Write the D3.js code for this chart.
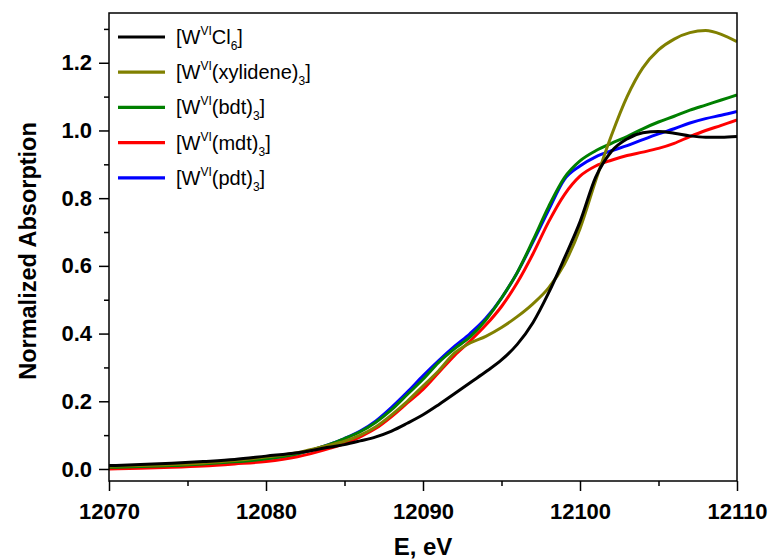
<!DOCTYPE html>
<html>
<head>
<meta charset="utf-8">
<script src="https://cdn.jsdelivr.net/npm/d3@7/dist/d3.min.js"></script>
<style>
  html, body { margin: 0; padding: 0; background: #fff; }
  svg text { font-family: "Liberation Sans", Arial, sans-serif; }
</style>
</head>
<body>
<svg id="chart" width="771" height="560"></svg>
<script>
// W L-edge XAS, normalized absorption vs photon energy (eV)
const energy = [12070, 12072, 12074, 12076, 12078, 12080, 12082, 12084, 12085, 12086,
                12087, 12088, 12089, 12090, 12091, 12092, 12093, 12094, 12095, 12096,
                12097, 12098, 12099, 12100, 12101, 12102, 12103, 12104, 12105, 12106,
                12107, 12108, 12109, 12110];

const wcl6 =      [0.010, 0.013, 0.017, 0.022, 0.028, 0.038, 0.048, 0.064, 0.072, 0.083,
                   0.095, 0.112, 0.135, 0.160, 0.190, 0.222, 0.255, 0.287, 0.322, 0.368,
                   0.432, 0.520, 0.622, 0.730, 0.862, 0.938, 0.975, 0.993, 0.997, 0.992,
                   0.984, 0.980, 0.980, 0.982];
const xylidene =  [0.008, 0.010, 0.013, 0.018, 0.025, 0.035, 0.048, 0.070, 0.082, 0.100,
                   0.125, 0.160, 0.200, 0.245, 0.290, 0.342, 0.372, 0.392, 0.418, 0.450,
                   0.488, 0.535, 0.605, 0.710, 0.852, 0.985, 1.100, 1.185, 1.238, 1.270,
                   1.289, 1.295, 1.284, 1.262];
const bdt =       [0.005, 0.007, 0.010, 0.015, 0.021, 0.030, 0.045, 0.072, 0.090, 0.110,
                   0.138, 0.175, 0.220, 0.265, 0.315, 0.355, 0.390, 0.440, 0.505, 0.580,
                   0.675, 0.775, 0.860, 0.910, 0.940, 0.962, 0.982, 1.005, 1.025, 1.042,
                   1.060, 1.075, 1.090, 1.105];
const mdt =       [0.000, 0.002, 0.005, 0.009, 0.015, 0.022, 0.036, 0.060, 0.075, 0.095,
                   0.120, 0.155, 0.195, 0.235, 0.285, 0.335, 0.378, 0.425, 0.480, 0.550,
                   0.635, 0.730, 0.810, 0.865, 0.895, 0.912, 0.926, 0.936, 0.947, 0.962,
                   0.982, 1.000, 1.015, 1.031];
const pdt =       [0.005, 0.007, 0.010, 0.015, 0.021, 0.030, 0.045, 0.072, 0.090, 0.112,
                   0.142, 0.182, 0.227, 0.275, 0.320, 0.362, 0.400, 0.445, 0.505, 0.580,
                   0.670, 0.765, 0.855, 0.895, 0.922, 0.940, 0.955, 0.973, 0.990, 1.005,
                   1.022, 1.035, 1.045, 1.056];

const xTicks = [12070, 12080, 12090, 12100, 12110];
const yTicks = [0.0, 0.2, 0.4, 0.6, 0.8, 1.0, 1.2];

// legend entries: [main text, superscript, text, subscript, closing]
const series = [
  { name: "WCl6",      values: wcl6,     color: "#000000", parts: ["[W", "VI", "Cl", "6", "]"] },
  { name: "xylidene",  values: xylidene, color: "#808000", parts: ["[W", "VI", "(xylidene)", "3", "]"] },
  { name: "bdt",       values: bdt,      color: "#008000", parts: ["[W", "VI", "(bdt)", "3", "]"] },
  { name: "mdt",       values: mdt,      color: "#ff0000", parts: ["[W", "VI", "(mdt)", "3", "]"] },
  { name: "pdt",       values: pdt,      color: "#0000ff", parts: ["[W", "VI", "(pdt)", "3", "]"] }
];
const drawOrder = ["pdt", "mdt", "bdt", "xylidene", "WCl6"];

const svg = d3.select("#chart");
const plot = { left: 109, right: 737, top: 13, bottom: 481 };

const x = d3.scaleLinear().domain([12070, 12110]).range([plot.left, plot.right]);
const y = d3.scaleLinear().domain([-0.0355, 1.347]).range([plot.bottom, plot.top]);

// clip curves to the frame
svg.append("defs").append("clipPath").attr("id", "clip")
  .append("rect")
  .attr("x", plot.left).attr("y", plot.top)
  .attr("width", plot.right - plot.left).attr("height", plot.bottom - plot.top);

const line = d3.line()
  .x(d => x(d[0]))
  .y(d => y(d[1]))
  .curve(d3.curveMonotoneX);

const curves = svg.append("g").attr("clip-path", "url(#clip)");
drawOrder.forEach(key => {
  const s = series.find(z => z.name === key);
  curves.append("path")
    .datum(energy.map((e, i) => [e, s.values[i]]))
    .attr("fill", "none")
    .attr("stroke", s.color)
    .attr("stroke-width", 3)
    .attr("stroke-linejoin", "round")
    .attr("d", line);
});

// frame
svg.append("rect")
  .attr("x", plot.left).attr("y", plot.top)
  .attr("width", plot.right - plot.left).attr("height", plot.bottom - plot.top)
  .attr("fill", "none").attr("stroke", "#000").attr("stroke-width", 1.5);

// minor ticks
const minorX = d3.range(12075, 12110, 10);
const minorY = d3.range(0.1, 1.35, 0.2);
svg.append("g").attr("transform", `translate(0,${plot.bottom})`)
  .call(d3.axisBottom(x).tickValues(minorX).tickSize(5).tickFormat(""))
  .call(g => g.select(".domain").remove())
  .call(g => g.selectAll("line").attr("stroke-width", 1.5));
svg.append("g").attr("transform", `translate(${plot.left},0)`)
  .call(d3.axisLeft(y).tickValues(minorY).tickSize(5).tickFormat(""))
  .call(g => g.select(".domain").remove())
  .call(g => g.selectAll("line").attr("stroke-width", 1.5));

// major ticks and labels
const tickFont = g => g.selectAll("text")
  .attr("font-size", 22).attr("font-weight", "bold")
  .attr("font-family", "Liberation Sans, Arial, sans-serif").attr("fill", "#000");

svg.append("g").attr("transform", `translate(0,${plot.bottom})`)
  .call(d3.axisBottom(x).tickValues(xTicks).tickSize(10).tickPadding(12).tickFormat(d3.format("d")))
  .call(g => g.select(".domain").remove())
  .call(g => g.selectAll("line").attr("stroke-width", 1.5))
  .call(tickFont)
  .call(g => g.selectAll("text").attr("dy", "0.71em"));

svg.append("g").attr("transform", `translate(${plot.left},0)`)
  .call(d3.axisLeft(y).tickValues(yTicks).tickSize(10).tickPadding(7).tickFormat(d3.format(".1f")))
  .call(g => g.select(".domain").remove())
  .call(g => g.selectAll("line").attr("stroke-width", 1.5))
  .call(tickFont);

// axis titles
svg.append("text")
  .attr("x", (plot.left + plot.right) / 2).attr("y", 555)
  .attr("text-anchor", "middle")
  .attr("font-size", 24).attr("font-weight", "bold")
  .text("E, eV");

svg.append("text")
  .attr("transform", `translate(36,${(plot.top + plot.bottom) / 2 + 4}) rotate(-90)`)
  .attr("text-anchor", "middle")
  .attr("font-size", 23.5).attr("font-weight", "bold")
  .text("Normalized Absorption");

// legend
const legend = svg.append("g");
series.forEach((s, i) => {
  const ly = 37 + i * 35.2;
  legend.append("line")
    .attr("x1", 118).attr("x2", 165)
    .attr("y1", ly).attr("y2", ly)
    .attr("stroke", s.color).attr("stroke-width", 3.2);
  const t = legend.append("text")
    .attr("x", 176).attr("y", ly + 7)
    .attr("font-size", 20);
  t.append("tspan").text(s.parts[0]);
  t.append("tspan").attr("font-size", 12).attr("dy", -9).text(s.parts[1]);
  t.append("tspan").attr("dy", 9).text(s.parts[2]);
  t.append("tspan").attr("font-size", 12).attr("dy", 6).text(s.parts[3]);
  t.append("tspan").attr("dy", -6).text(s.parts[4]);
});
</script>
</body>
</html>
